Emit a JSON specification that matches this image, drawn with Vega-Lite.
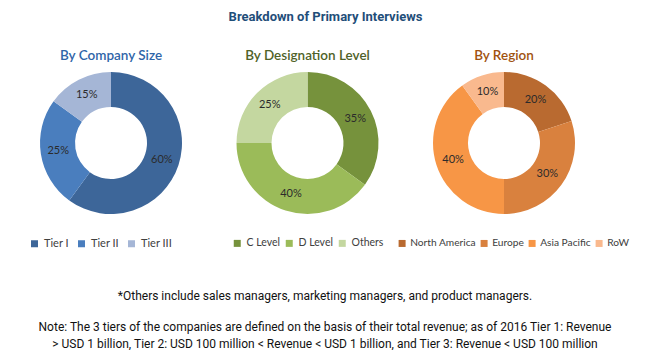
{
  "$schema": "https://vega.github.io/schema/vega-lite/v6.json",
  "background": "white",
  "padding": {"left": 21, "top": 11, "right": 0, "bottom": 0},
  "title": {"text": "Breakdown of Primary Interviews", "fontSize": 13, "font": "Roboto", "fontWeight": "bold", "color": "#1F4E79", "anchor": "middle", "offset": 24.5},
  "config": {
    "view": {"stroke": null},
    "title": {"font": "Lato", "fontSize": 13.5, "fontWeight": 600, "offset": 6},
    "legend": {"orient": "none", "direction": "horizontal", "symbolType": "square", "symbolSize": 49, "symbolStrokeWidth": 0, "labelFont": "Lato", "labelFontSize": 11, "labelColor": "#404040", "title": null, "labelOffset": 4, "legendY": 170}
  },
  "spacing": 31,
  "vconcat": [
    {
      "hconcat": [
        {
          "title": {"text": "By Company Size", "color": "#2F65A8"},
          "width": 180, "height": 150,
          "data": {"values": [
            {"category": "Tier I", "share": 0.60, "rank": 1},
            {"category": "Tier II", "share": 0.25, "rank": 2},
            {"category": "Tier III", "share": 0.15, "rank": 3}
          ]},
          "layer": [
            {"mark": {"type": "arc", "innerRadius": 36, "outerRadius": 71},
             "encoding": {
               "theta": {"field": "share", "type": "quantitative", "stack": true},
               "order": {"field": "rank", "type": "quantitative"},
               "color": {"field": "category", "type": "nominal", "scale": {"domain": ["Tier I", "Tier II", "Tier III"], "range": ["#3D6699", "#4A7EBE", "#A5B6D6"]}, "legend": {"title": null, "legendX": 8, "columnPadding": 7}}
             }},
            {"mark": {"type": "text", "radius": 53.5, "font": "Lato", "fontSize": 11, "color": "#2b2b2b"},
             "encoding": {
               "theta": {"field": "share", "type": "quantitative", "stack": true},
               "order": {"field": "rank", "type": "quantitative"},
               "text": {"field": "share", "type": "quantitative", "format": ".0%"}
             }}
          ]
        },
        {
          "title": {"text": "By Designation Level", "color": "#4F6228"},
          "width": 180, "height": 150,
          "data": {"values": [
            {"category": "C Level", "share": 0.35, "rank": 1},
            {"category": "D Level", "share": 0.40, "rank": 2},
            {"category": "Others", "share": 0.25, "rank": 3}
          ]},
          "layer": [
            {"mark": {"type": "arc", "innerRadius": 36, "outerRadius": 71},
             "encoding": {
               "theta": {"field": "share", "type": "quantitative", "stack": true},
               "order": {"field": "rank", "type": "quantitative"},
               "color": {"field": "category", "type": "nominal", "scale": {"domain": ["C Level", "D Level", "Others"], "range": ["#76923C", "#9BBB59", "#C4D7A0"]}, "legend": {"title": null, "legendX": 14.5, "columnPadding": 4, "labelFontSize": 10.5}}
             }},
            {"mark": {"type": "text", "radius": 53.5, "font": "Lato", "fontSize": 11, "color": "#2b2b2b"},
             "encoding": {
               "theta": {"field": "share", "type": "quantitative", "stack": true},
               "order": {"field": "rank", "type": "quantitative"},
               "text": {"field": "share", "type": "quantitative", "format": ".0%"}
             }}
          ]
        },
        {
          "title": {"text": "By Region", "color": "#A0520F"},
          "width": 180, "height": 150,
          "data": {"values": [
            {"category": "North America", "share": 0.20, "rank": 1},
            {"category": "Europe", "share": 0.30, "rank": 2},
            {"category": "Asia Pacific", "share": 0.40, "rank": 3},
            {"category": "RoW", "share": 0.10, "rank": 4}
          ]},
          "layer": [
            {"mark": {"type": "arc", "innerRadius": 36, "outerRadius": 71},
             "encoding": {
               "theta": {"field": "share", "type": "quantitative", "stack": true},
               "order": {"field": "rank", "type": "quantitative"},
               "color": {"field": "category", "type": "nominal", "scale": {"domain": ["North America", "Europe", "Asia Pacific", "RoW"], "range": ["#B96A30", "#D9813E", "#F79646", "#F9B98E"]}, "legend": {"title": null, "legendX": -17, "columnPadding": 3, "labelOffset": 3, "labelFontSize": 10.2}}
             }},
            {"mark": {"type": "text", "radius": 53.5, "font": "Lato", "fontSize": 11, "color": "#2b2b2b"},
             "encoding": {
               "theta": {"field": "share", "type": "quantitative", "stack": true},
               "order": {"field": "rank", "type": "quantitative"},
               "text": {"field": "share", "type": "quantitative", "format": ".0%"}
             }}
          ]
        }
      ],
      "spacing": 16.5,
      "bounds": "flush",
      "resolve": {"scale": {"color": "independent"}}
    },
    {
      "width": 608, "height": 62,
      "data": {"values": [
        {"block": "a", "note": ["*Others include sales managers, marketing managers, and product managers."]},
        {"block": "b", "note": ["Note: The 3 tiers of the companies are defined on the basis of their total revenue; as of 2016 Tier 1: Revenue", "> USD 1 billion, Tier 2: USD 100 million < Revenue < USD 1 billion, and Tier 3: Revenue < USD 100 million"]}
      ]},
      "mark": {"type": "text", "font": "Roboto", "fontSize": 12, "color": "#111111", "lineHeight": 17, "baseline": "middle"},
      "encoding": {
        "y": {"field": "block", "type": "nominal", "axis": null, "scale": {"type": "point", "padding": 0.5}},
        "text": {"field": "note", "type": "nominal"}
      }
    }
  ]
}
